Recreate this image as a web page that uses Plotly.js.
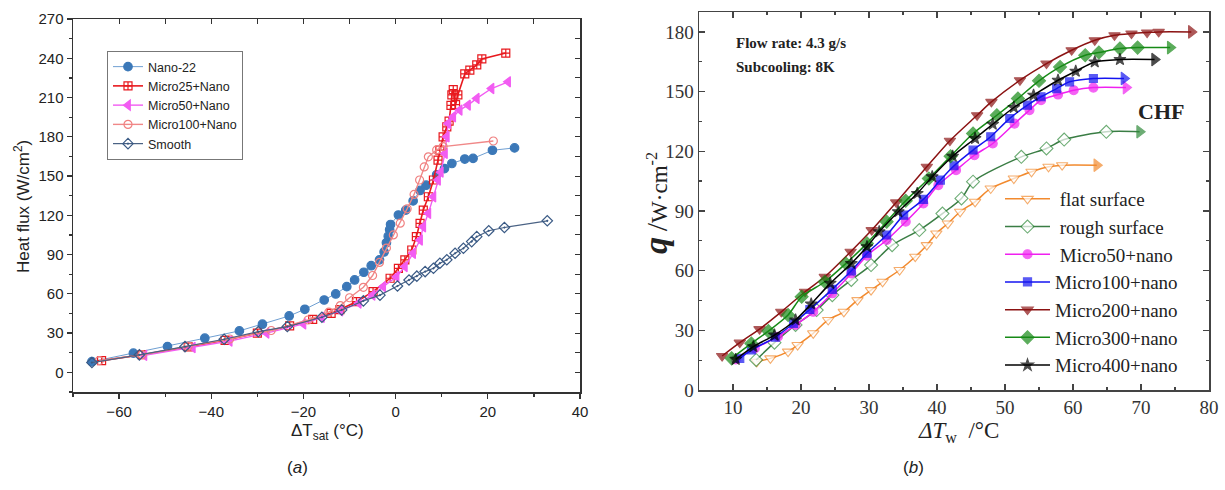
<!DOCTYPE html>
<html>
<head>
<meta charset="utf-8">
<script src="https://cdn.plot.ly/plotly-3.0.1.min.js"></script>
<style>html,body{margin:0;padding:0;background:#fff;}#chart{width:1225px;height:490px;}</style>
</head>
<body>
<div id="chart"></div>
<script>
// ---------- Panel (a) data ----------
const nano22X = [-65.9,-56.9,-49.5,-41.4,-33.9,-28.9,-23.1,-19.7,-15.5,-13,-10.6,-8.9,-6.9,-5.3,-3.5,-2.5,-2,-1.6,-1.3,-1.1,0.6,2.2,3.8,5.3,6.6,8.9,10.6,12.2,15,16.8,21,25.8];
const nano22Y = [8.2,14.7,19.7,26.1,31.7,36.8,43.1,48.2,55.3,59.9,65.5,70.6,76.5,81.5,86,92,99,104,109,113,120.2,124,131,139,143,151,155.7,159.6,163,163.5,169.7,171.5];
const m25X = [-63.8,-55,-45,-37,-30,-23,-18,-14,-12.1,-8.5,-4.9,-1.2,0.6,2,3.5,4.5,5.3,6,7.1,8.2,9.2,9.6,10.3,11.1,11.6,12.0,12.2,12.5,13.0,13.5,15,16.1,17.6,18.7,23.9];
const m25Y = [9,13.5,19.5,24.5,30,35.5,40.5,45,48,54,61.7,71.9,79.5,85.9,93.5,103.7,113.9,124,134.2,147,162.2,169.8,180,187.6,192,204,212,216,204.5,212,228,231,235,239.5,244];
const m50X = [-54.5,-44,-36,-28,-20,-16,-12,-8,-5,-2.7,0.2,2,3.8,5.3,6,7.1,8.2,9.2,9.8,10.7,11.1,11.4,12.5,13.9,15.7,17.6,20.8,24.4];
const m50Y = [13,19,24,30,37,42,47,53,59,65.5,73.1,80.8,91,101.1,111.3,121.5,134.2,147,153,167.3,180,190.2,195.3,200.4,204.2,209.3,216.9,222];
const m100X = [-64.3,-55,-45,-36,-27,-19,-14.5,-12,-10,-7,-5,-3.5,-2,-0.5,1,2.5,4,5.2,6.2,7.1,8.9,10.3,21.2];
const m100Y = [9,13.5,20,25.5,32,40,46,51,57,65,74,84,95,105,114,125,136,147,157,164.7,170,172.5,176.8];
const smoothX = [-65.9,-55.6,-45.7,-37.2,-29.8,-23.5,-16,-11.7,-7,-3.4,0.4,2.9,4.6,6.4,8.2,9.6,11.1,12.9,14.7,16.5,17.6,20.2,23.6,32.9];
const smoothY = [7.5,13.4,19.7,25.3,31.1,35,42.1,47.7,54.6,59,66,70.6,73.5,77,79.5,83.4,86,91,94.8,99.9,103.7,108.2,110.7,115.8];
const namesA = ["Nano-22","Micro25+Nano","Micro50+Nano","Micro100+Nano","Smooth"];

// ---------- Panel (b) data ----------
const flatX = [13.5,15.5,18.1,19.5,21.8,24,26.3,28.3,30.3,32,34.5,36.8,38.5,39.9,41.6,43.4,45.6,47.9,51.3,53.9,56.4,58.4];
const flatY = [14.2,15.9,19.3,22.6,28.5,35.2,39.3,45.2,50.2,54.4,60.3,67,72.8,78.7,83.7,89.6,94.6,101.3,106.3,109.7,112.2,113];
const roughX = [13.4,16.1,19.2,22.3,24.6,27.4,30.3,33.4,37.4,40.8,43.6,45.3,52.4,56.1,58.7,64.9];
const roughY = [15.1,23.8,32.7,40.2,47.7,55.3,62.8,72.8,80.4,88.7,96.3,104.7,117.2,121.4,125.9,129.8];
const b50X = [10.4,13.2,16.6,19.2,21.8,24.6,27.4,29.7,32.6,35.4,38,40.2,42.8,45.5,48.2,51.4,53.6,55.3,57.8,60.1,63];
const b50Y = [15.4,20.9,26.8,32.7,39.3,48.6,58.6,67.5,75.4,84.6,93.8,103,110.5,118,123.9,133.9,140.7,145.7,148.5,150.7,152];
const b100X = [11,12.7,16.2,18.9,21.3,24.6,27.4,29.7,32.6,35.1,38,40.5,42.5,45.3,47.9,50.7,53.3,55.3,57.6,59.5,63];
const b100Y = [15.9,20.1,26.5,33.5,40.5,50.6,59.9,68.7,77.9,87.9,95.8,105.5,112.7,120.6,127.3,136.5,143.2,147.4,151.5,154.9,156.6];
const b200X = [8.4,11,13.9,17.1,20.6,23.5,27.3,30.4,34,38.5,41.9,45.9,48,52.2,56.1,59.8,63.2,66.1,68.6,70.9,72.6];
const b200Y = [17.1,23.8,30.6,39.3,49.4,56.9,69.5,80.4,94.3,112.2,125.3,138.1,144.8,155.7,164.1,170.8,175.8,178.3,179.2,179.7,180];
const b300X = [9.8,12.7,15.2,18.1,20.1,23.5,26.6,29.7,32.6,35.4,38.8,42,45.3,48.8,51.9,55,58.1,61.8,63.8,66.9,69.5];
const b300Y = [15.9,23.4,29.6,37.7,46.9,54.4,63.6,73.7,84.6,95.1,106.3,117.5,128.9,138.1,146.5,155.4,162.4,168.3,169.6,171.6,172.1];
const b400X = [10.4,13,16.1,19.2,21.5,24.3,27.4,29.7,31.5,34.3,37.1,39.3,42.3,45.6,48.2,51.3,54.2,57.8,60.4,63.2,66.9];
const b400Y = [15.4,21.8,27.6,35.2,43.2,53.6,63.6,72,79.5,89.6,98.8,107.2,117.5,126.4,133.6,142,148.2,155.7,160.2,164.9,166.1];
// CHF arrow tips (x) for: flat, rough, Micro50, Micro100, Micro200, Micro300, Micro400
const chfTipX = [63.5,69.8,67.8,67.5,77.4,74.3,72];
const namesB = ["\u00a0flat surface","\u00a0rough surface","\u00a0Micro50+nano","Micro100+nano","Micro200+nano","Micro300+nano","Micro400+nano"];

// ---------- traces ----------
const fontA = "Liberation Sans, Arial, sans-serif";
const fontB = "Liberation Serif, Times New Roman, serif";
const traces = [];
function addA(x, y, name, lineColor, mColor, symbol, size, lw) {
  traces.push({type:'scatter', mode:'lines+markers', x:x, y:y, name:name, xaxis:'x', yaxis:'y', legend:'legend',
    line:{color:lineColor, width:lw||1.2},
    marker:{symbol:symbol, size:size, color:mColor, line:{color:mColor, width:1.2}}});
}
addA(nano22X, nano22Y, namesA[0], '#6f9fd2', '#3b78b8', 'circle', 8.5, 1);
addA(m25X, m25Y, namesA[1], '#e8191e', '#e8191e', 'square-cross-open', 8, 1.6);
addA(m50X, m50Y, namesA[2], '#f25cf2', '#f25cf2', 'triangle-left', 9, 1.4);
addA(m100X, m100Y, namesA[3], '#f08888', '#f08080', 'circle-open', 8, 1.4);
addA(smoothX, smoothY, namesA[4], '#4a6284', '#3a5a85', 'diamond-open-dot', 8, 1.2);

function addB(x, y, tip, name, color, fill, symbol, size, lineColor) {
  const xs = x.concat([tip]);
  const ys = y.concat([y[y.length-1]]);
  const syms = x.map(() => symbol).concat(['triangle-right']);
  const sizes = x.map(() => size).concat([11]);
  const fills = x.map(() => fill).concat([color]);
  traces.push({type:'scatter', mode:'lines+markers', x:xs, y:ys, name:name, xaxis:'x2', yaxis:'y2', legend:'legend2',
    line:{color:lineColor||color, width:1.5, shape:'spline', smoothing:0.8},
    marker:{symbol:syms, size:sizes, color:fills, line:{color:color, width:1.1}}});
}
addB(flatX, flatY, chfTipX[0], namesB[0], '#f28a2e', '#ffffff', 'triangle-down', 10);
addB(roughX, roughY, chfTipX[1], namesB[1], '#2f8a3a', '#ffffff', 'diamond', 10, '#3a7d44');
addB(b50X, b50Y, chfTipX[2], namesB[2], '#f020f0', '#f020f0', 'circle', 9);
addB(b100X, b100Y, chfTipX[3], namesB[3], '#1414f0', '#1414f0', 'square', 8);
addB(b200X, b200Y, chfTipX[4], namesB[4], '#8b1212', '#8b1212', 'triangle-down', 10);
addB(b300X, b300Y, chfTipX[5], namesB[5], '#168a16', '#168a16', 'diamond', 10);
addB(b400X, b400Y, chfTipX[6], namesB[6], '#000000', '#000000', 'star', 9);

// dummy traces so mirror axes of panel (a) get drawn
traces.push({type:'scatter', x:[], y:[], xaxis:'x3', yaxis:'y', showlegend:false, hoverinfo:'skip'});
traces.push({type:'scatter', x:[], y:[], xaxis:'x', yaxis:'y3', showlegend:false, hoverinfo:'skip'});

const W = 1225, H = 490;
const px = v => v / W, py = v => 1 - v / H;

function note(text, x, y, font, extra) {
  return Object.assign({text:text, xref:'paper', yref:'paper', x:px(x), y:py(y), showarrow:false,
    xanchor:'center', yanchor:'middle', font:font}, extra || {});
}

const layout = {
  width: W, height: H, autosize:false,
  margin:{l:0, r:0, t:0, b:0},
  paper_bgcolor:'#ffffff', plot_bgcolor:'rgba(0,0,0,0)',
  showlegend:true,
  xaxis:{domain:[px(73), px(580)], anchor:'y', range:[-70,40], dtick:20, tick0:0,
    ticks:'outside', ticklen:5, tickwidth:1.3, tickcolor:'#333',
    minor:{dtick:10, ticks:'outside', ticklen:3, tickcolor:'#333'},
    showline:true, linecolor:'#333', linewidth:1.5, mirror:true,
    showgrid:false, zeroline:false, tickfont:{family:fontA, size:15, color:'#222'}},
  yaxis:{domain:[py(392), py(19)], anchor:'x', range:[-15,270], dtick:30, tick0:0,
    ticks:'outside', ticklen:5, tickwidth:1.3, tickcolor:'#333',
    minor:{dtick:15, ticks:'outside', ticklen:3, tickcolor:'#333'},
    showline:true, linecolor:'#333', linewidth:1.5, mirror:true,
    showgrid:false, zeroline:false, tickfont:{family:fontA, size:15, color:'#222'}},
  xaxis3:{overlaying:'x', anchor:'y', side:'top', range:[-70,40], dtick:10, tick0:0,
    ticks:'inside', ticklen:5, tickcolor:'#333', showticklabels:false, showline:false, showgrid:false, zeroline:false},
  yaxis3:{overlaying:'y', anchor:'x', side:'right', range:[-15,270], dtick:15, tick0:0,
    ticks:'inside', ticklen:5, tickcolor:'#333', showticklabels:false, showline:false, showgrid:false, zeroline:false},
  xaxis2:{domain:[px(699), px(1209)], anchor:'y2', range:[5,80], dtick:10, tick0:0,
    ticks:'inside', ticklen:6, tickwidth:1.3, tickcolor:'#444',
    minor:{dtick:5, ticks:'inside', ticklen:3, tickcolor:'#444'},
    showline:true, linecolor:'#444', linewidth:1.5, mirror:'allticks',
    showgrid:false, zeroline:false, tickfont:{family:fontB, size:19, color:'#333'}},
  yaxis2:{domain:[py(390), py(12)], anchor:'x2', range:[0,190], dtick:30, tick0:0,
    ticks:'inside', ticklen:6, tickwidth:1.3, tickcolor:'#444',
    minor:{dtick:15, ticks:'inside', ticklen:3, tickcolor:'#444'},
    showline:true, linecolor:'#444', linewidth:1.5, mirror:'allticks',
    showgrid:false, zeroline:false, tickfont:{family:fontB, size:19, color:'#333'}},
  legend:{x:px(107), y:py(51), xanchor:'left', yanchor:'top', bgcolor:'#ffffff',
    bordercolor:'#777', borderwidth:1, font:{family:fontA, size:12.5, color:'#222'},
    itemwidth:30, tracegroupgap:0},
  legend2:{x:px(1000), y:py(180), xanchor:'left', yanchor:'top', bgcolor:'rgba(0,0,0,0)',
    borderwidth:0, font:{family:fontB, size:19, color:'#222'}, itemwidth:45, tracegroupgap:0},
  annotations:[
    note('ΔT<sub>sat</sub> (°C)', 327, 432, {family:fontA, size:17, color:'#222'}),
    note('Heat flux (W/cm<sup>2</sup>)', 22, 207, {family:fontA, size:17, color:'#222'}, {textangle:-90}),
    note('(<i>a</i>)', 297, 467, {family:fontA, size:17, color:'#222'}),
    note('(<i>b</i>)', 914, 467, {family:fontA, size:17, color:'#222'}),
    note('<i>ΔT</i><sub>w</sub>  /°C', 958, 432, {family:fontB, size:23, color:'#222'}),
    note('<span style="font-size:34px"><b><i>q</i></b></span> <span style="font-size:30px">/</span>W·cm<sup>-2</sup>', 655, 203,
      {family:fontB, size:23, color:'#222'}, {textangle:-90}),
    note('<b>Flow rate: 4.3 g/s</b>', 734, 43, {family:fontB, size:15, color:'#222'}, {xanchor:'left'}),
    note('<b>Subcooling: 8K</b>', 734, 67, {family:fontB, size:15, color:'#222'}, {xanchor:'left'}),
    note('<b>CHF</b>', 1161, 112, {family:fontB, size:22, color:'#222'})
  ]
};

Plotly.newPlot('chart', traces, layout, {staticPlot:true, displayModeBar:false});
</script>
</body>
</html>
